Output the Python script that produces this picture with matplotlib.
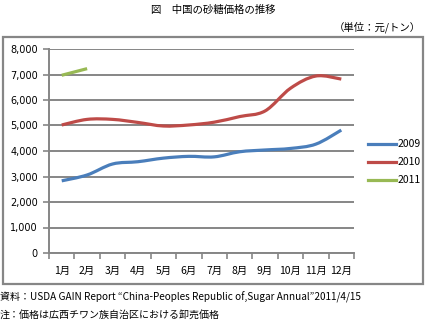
import matplotlib
matplotlib.use("Agg")
import matplotlib.pyplot as plt
from matplotlib.path import Path
from matplotlib.patches import PathPatch, Rectangle
from matplotlib.lines import Line2D
import numpy as np

plt.rcParams['font.family'] = ['Noto Sans CJK JP', 'DejaVu Sans']

months = ["1月", "2月", "3月", "4月", "5月", "6月", "7月", "8月", "9月", "10月", "11月", "12月"]
series_names = ["2009", "2010", "2011"]
v2009 = [2830, 3060, 3490, 3580, 3720, 3790, 3770, 3970, 4040, 4100, 4270, 4820]
v2010 = [5020, 5240, 5240, 5120, 4980, 5020, 5130, 5350, 5570, 6460, 6940, 6820]
v2011 = [6970, 7230]
colors = ["#4a7ebb", "#be4b48", "#98b954"]
yticks = [0, 1000, 2000, 3000, 4000, 5000, 6000, 7000, 8000]

fig = plt.figure(figsize=(4.3, 3.25), dpi=100)
ax = fig.add_axes([49/430, 1-253/325, 305/430, 204/325])


def smooth_path(xs, ys):
    pts = np.column_stack([xs, ys]).astype(float)
    n = len(pts)
    if n < 3:
        return Path(pts, [Path.MOVETO] + [Path.LINETO] * (n - 1))
    verts = [pts[0]]
    codes = [Path.MOVETO]
    for i in range(n - 1):
        p0 = pts[i - 1] if i > 0 else pts[i]
        p1 = pts[i]
        p2 = pts[i + 1]
        p3 = pts[i + 2] if i + 2 < n else pts[i + 1]
        c1 = p1 + (p2 - p0) / 6.0
        c2 = p2 - (p3 - p1) / 6.0
        verts += [c1, c2, p2]
        codes += [Path.CURVE4] * 3
    return Path(verts, codes)


for name, vals, c in zip(series_names, [v2009, v2010, v2011], colors):
    xs = np.arange(len(vals))
    ax.add_patch(PathPatch(smooth_path(xs, vals), fill=False, edgecolor=c,
                           lw=2.3, capstyle='butt', joinstyle='round', zorder=3))

ax.set_xlim(-0.5, 11.5)
ax.set_ylim(0, 8000)
ax.set_yticks(yticks)
ax.set_yticklabels([f"{v:,}" for v in yticks], fontsize=7, family=['DejaVu Sans'])
ax.set_xticks(range(len(months)))
ax.set_xticklabels(months, fontsize=7.5)
ax.set_xticks(np.arange(-0.5, 12, 1), minor=True)
ax.tick_params(axis='x', which='major', length=0, pad=9)
ax.tick_params(axis='x', which='minor', length=4, width=1.2, color='#868686')
ax.tick_params(axis='y', length=4, width=1.2, color='#868686', pad=4)
ax.grid(axis='y', color='#868686', lw=1.4)
ax.set_axisbelow(True)
for s in ['top', 'right']:
    ax.spines[s].set_visible(False)
for s in ['left', 'bottom']:
    ax.spines[s].set_color('#868686')
    ax.spines[s].set_linewidth(1.4)

handles = [Line2D([], [], color=c, lw=2.3) for c in colors]
fig.legend(handles, series_names, loc='upper left', bbox_to_anchor=(364/430, 1-135/325),
           frameon=False, fontsize=7.5, handlelength=2.7, handletextpad=0.1,
           labelspacing=0.78, borderaxespad=0)

fig.add_artist(Rectangle((3/430, 1-284/325), 420/430, 247/325, transform=fig.transFigure,
                         fill=False, edgecolor='#868686', lw=1.6))

fig.text(213/430, 1-10/325, "図　中国の砂糖価格の推移", ha='center', va='center', fontsize=7.5)
fig.text(421/430, 1-27/325, "（単位：元/トン）", ha='right', va='center', fontsize=7.5)
fig.text(0, 1-297/325, "資料：USDA GAIN Report “China-Peoples Republic of,Sugar Annual”2011/4/15",
         ha='left', va='center', fontsize=7.2)
fig.text(0, 1-315/325, "注：価格は広西チワン族自治区における卸売価格", ha='left', va='center', fontsize=7.2)

fig.savefig("out.png", dpi=100)
